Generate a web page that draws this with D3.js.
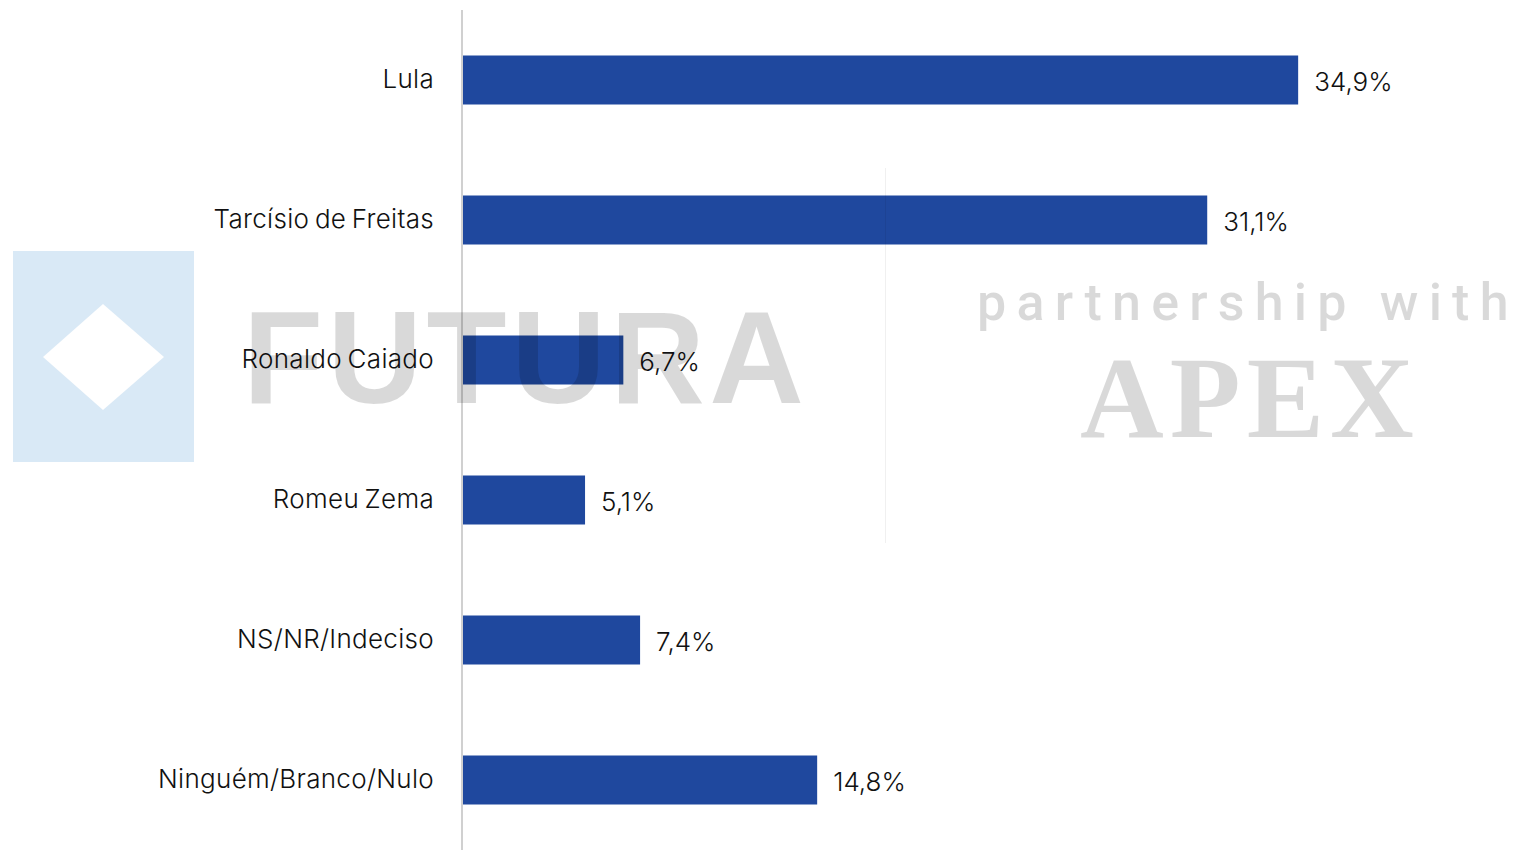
<!DOCTYPE html>
<html>
<head>
<meta charset="utf-8">
<script src="https://cdn.jsdelivr.net/npm/d3@7"></script>
<style>
    body { margin: 0; background: #fff; }
    svg { display: block; }
</style>
</head>
<body>
<div id="bar"></div>
<script>
var candidates = ["Lula", "Tarcísio de Freitas", "Ronaldo Caiado", "Romeu Zema", "NS/NR/Indeciso", "Ninguém/Branco/Nulo"];
var values = [34.9, 31.1, 6.7, 5.1, 7.4, 14.8];
var valueLabels = ["34,9%", "31,1%", "6,7%", "5,1%", "7,4%", "14,8%"];

function init() {
    var w = 1527;
    var h = 850;

    var dataset = candidates.map(function (c, i) {
        return { name: c, value: values[i], label: valueLabels[i] };
    });

    var svg = d3.select("#bar")
        .append("svg")
        .attr("width", w)
        .attr("height", h);

    var xScale = d3.scaleLinear()
        .domain([0, 40])
        .range([463, 463 + 23.93 * 40]);

    var yScale = d3.scaleBand()
        .domain(candidates)
        .range([10, 850])
        .paddingInner(0.65)
        .paddingOuter(0.325);

    // bars
    svg.selectAll("rect.bar")
        .data(dataset)
        .enter()
        .append("rect")
        .attr("class", "bar")
        .attr("x", xScale(0))
        .attr("y", function (d) { return yScale(d.name); })
        .attr("width", function (d) { return xScale(d.value) - xScale(0); })
        .attr("height", yScale.bandwidth())
        .attr("fill", "#1f489e");

    // category axis
    var yAxis = d3.axisLeft(yScale).tickSize(0).tickPadding(28);
    var gy = svg.append("g")
        .attr("transform", "translate(462,0)")
        .call(yAxis);
    gy.select(".domain").attr("stroke", "#d0d0d0").attr("stroke-width", 2)
        .attr("d", "M0,10V850");
    gy.selectAll("text")
        .attr("font-family", "Inter, sans-serif")
        .attr("font-size", 26)
        .attr("font-weight", 300)
        .attr("letter-spacing", "0.3px")
        .attr("word-spacing", "-2px")
        .attr("fill", "#111");

    // value labels
    svg.selectAll("text.val")
        .data(dataset)
        .enter()
        .append("text")
        .attr("class", "val")
        .attr("x", function (d) { return xScale(d.value) + 16; })
        .attr("y", function (d) { return yScale(d.name) + yScale.bandwidth() / 2 + 2; })
        .attr("dy", "0.35em")
        .attr("font-family", "Inter, sans-serif")
        .attr("font-size", 26)
        .attr("font-weight", 300)
        .attr("fill", "#111")
        .text(function (d) { return d.label; });

    // watermark
    var wm = svg.append("g").attr("pointer-events", "none");
    wm.append("rect")
        .attr("x", 13).attr("y", 251).attr("width", 181).attr("height", 211)
        .attr("fill", "#d9e9f6");
    wm.append("path")
        .attr("d", "M103,304L164,357L103,410L43,357Z")
        .attr("fill", "#fff");
    wm.append("text")
        .attr("x", 243).attr("y", 403)
        .attr("font-family", "Liberation Sans, sans-serif")
        .attr("font-weight", "bold")
        .attr("font-size", 131)
        .attr("letter-spacing", "4.5px")
        .attr("fill", "#000").attr("fill-opacity", 0.15)
        .text("FUTURA");
    wm.append("line")
        .attr("x1", 885.5).attr("x2", 885.5).attr("y1", 168).attr("y2", 543)
        .attr("stroke", "#000").attr("stroke-opacity", 0.06);
    wm.append("text")
        .attr("x", 977).attr("y", 320)
        .attr("font-family", "Roboto, sans-serif")
        .attr("font-weight", 500)
        .attr("font-size", 52)
        .attr("letter-spacing", "10.2px")
        .attr("fill", "#000").attr("fill-opacity", 0.15)
        .text("partnership with");
    wm.append("text")
        .attr("x", 1080).attr("y", 437)
        .attr("font-family", "Liberation Serif, serif")
        .attr("font-weight", "bold")
        .attr("font-size", 116)
        .attr("letter-spacing", "6px")
        .attr("fill", "#000").attr("fill-opacity", 0.15)
        .text("APEX");
}
window.onload = init;
</script>
</body>
</html>
